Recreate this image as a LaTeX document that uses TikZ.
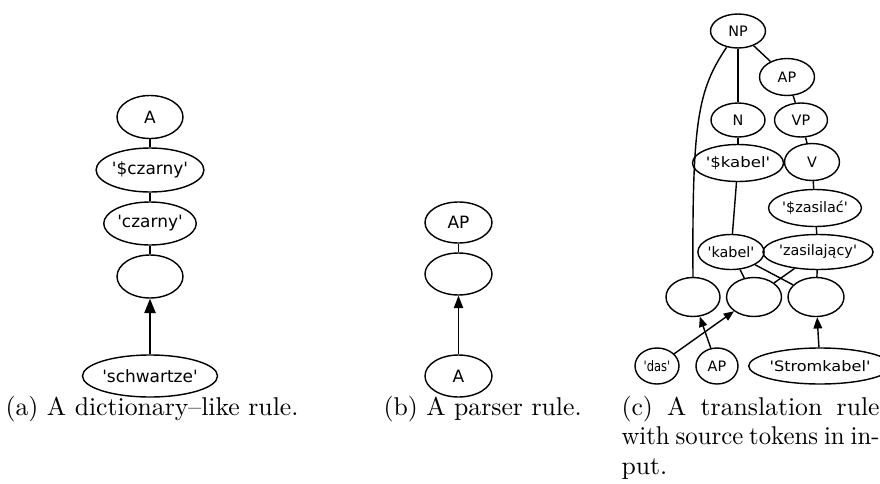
\documentclass[tikz,border=0pt]{standalone}
\usepackage{fontspec}
\newfontfamily\nodefont{DejaVu Sans}
\usetikzlibrary{shapes.geometric,arrows.meta}
\newcommand\tq{\textquotesingle}
\newcommand\hsq[2]{\scalebox{#1}[1]{#2}}
\begin{document}
\begin{tikzpicture}[x=0.389pt,y=-0.389pt,
  tn/.style={ellipse,draw,line width=0.55pt,inner sep=0pt,
    font=\nodefont\fontsize{6.6}{7}\selectfont},
  tc/.style={tn,font=\nodefont\fontsize{5.6}{6}\selectfont},
  sz/.style 2 args={minimum width=#1*0.389pt,minimum height=#2*0.389pt},
  ln/.style={line width=0.55pt},
  ar/.style 2 args={line width=0.55pt,-{Triangle[length=#1,width=#2]}},
  captxt/.style={anchor=base west,inner sep=0pt}]
\useasboundingbox (0,0) rectangle (880,483);
% (a)
\node[tn,sz={66}{43}] (aA) at (150,117) {A};
\node[tn,sz={84}{44}] (aSc) at (150,170) {\tq\$czarny\tq};
\node[tn,sz={74}{43}] (aC) at (150,223.5) {\tq czarny\tq};
\node[tn,sz={66}{43}] (aE) at (150,276.5) {};
\node[tn,sz={104}{42}] (aS) at (150,376) {\tq schwartze\tq};
\draw[ln] (aA) -- (aSc);
\draw[ln] (aSc) -- (aC);
\draw[ln] (aC) -- (aE);
\draw[ar={5.6pt}{4.4pt}] (aS) -- (aE);
% (b)
\node[tn,sz={67}{41}] (bAP) at (458.5,222.5) {AP};
\node[tn,sz={67}{42}] (bE) at (458.5,274) {};
\node[tn,sz={67}{42}] (bA) at (458.5,376) {A};
\draw[ln] (bAP) -- (bE);
\draw[ar={4.8pt}{3.6pt}] (bA) -- (bE);
% (c)
\node[tc,sz={55}{34}] (cNP) at (738,31) {NP};
\node[tc,sz={55}{37}] (cAP) at (787,77) {AP};
\node[tc,sz={54}{34}] (cN) at (738,120) {N};
\node[tc,sz={53}{34}] (cVP) at (801,120) {VP};
\node[tc,sz={70}{37}] (cSk) at (738,163) {\hsq{1.15}{\tq\$kabel\tq}};
\node[tc,sz={55}{37}] (cV) at (812,162) {V};
\node[tc,sz={76}{37}] (cSz) at (815,208) {\tq\$zasilać\tq};
\node[tc,sz={54}{35}] (cK) at (731,252) {\tq kabel\tq};
\node[tc,sz={89}{35}] (cZ) at (818,252) {\tq zasilający\tq};
\node[tc,sz={54}{39}] (cL) at (693,297) {};
\node[tc,sz={55}{39}] (cM) at (754,297) {};
\node[tc,sz={56}{39}] (cR) at (816,297) {};
\node[tc,sz={44}{36}] (cD) at (657,366) {\hsq{0.8}{\tq das\tq}};
\node[tc,sz={42}{36}] (cAPb) at (717,366) {AP};
\node[tc,sz={105}{36}] (cS) at (820,366) {\hsq{1.12}{\tq Stromkabel\tq}};
\draw[ln] (cNP) -- (cN);
\draw[ln] (cNP) -- (cAP);
\draw[ln] (cNP.235) .. controls (698,90) and (692,120) .. (cL.north);
\draw[ln] (cAP) -- (cVP);
\draw[ln] (cVP) -- (cV);
\draw[ln] (cV) -- (cSz);
\draw[ln] (cSz) -- (cZ);
\draw[ln] (cN) -- (cSk);
\draw[ln] (cSk) -- (cK);
\draw[ln] (cK) -- (cM);
\draw[ln] (cK) -- (cR);
\draw[ln] (cZ) -- (cM);
\draw[ln] (cZ) -- (cR);
\draw[ar={4pt}{3.2pt}] (cAPb) -- (cL);
\draw[ar={4pt}{3.2pt}] (cD) -- (cM);
\draw[ar={4.4pt}{3.4pt}] (cS) -- (cR);
% captions
\node[captxt] (capA) at (5,415) {(a) A dictionary--like rule.};
\node[captxt] (capB) at (383,415) {(b) A parser rule.};
\node[captxt] (capC) at (621,415) {\parbox[t]{100.4pt}{\fontsize{10}{11.5}\selectfont
  \makebox[\linewidth][s]{(c) A translation rule}\\
  \resizebox{\linewidth}{\height}{\spaceskip=2.4pt\relax with source tokens in in-}\\put.}};
\end{tikzpicture}
\end{document}
